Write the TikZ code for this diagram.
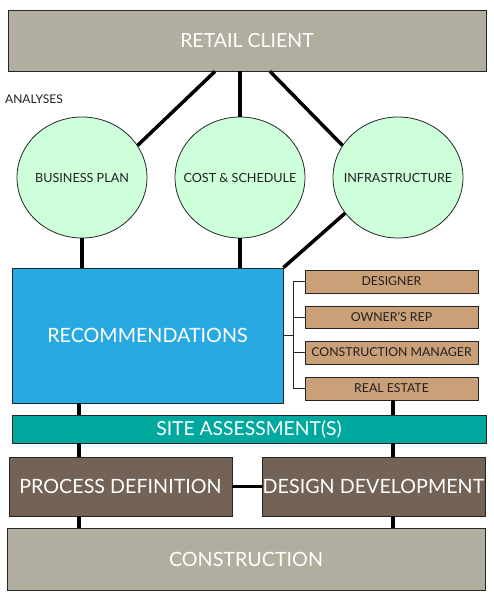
\documentclass[tikz,border=0pt]{standalone}
\usepackage{fontspec}
\setmainfont{Lato}
\usetikzlibrary{shapes.geometric}
\definecolor{graybox}{HTML}{B1AE9F}
\definecolor{recblue}{HTML}{29A9E1}
\definecolor{tanbox}{HTML}{C9A077}
\definecolor{tealbox}{HTML}{00A99D}
\definecolor{brownbox}{HTML}{736357}
\definecolor{mint}{HTML}{CCFFDA}
\definecolor{darktext}{HTML}{231F20}
\begin{document}
\begin{tikzpicture}[x=1pt,y=-1pt,
  boxnode/.style={draw=black!85, line width=0.8pt, inner sep=0pt, text=white, align=center},
  bignode/.style={boxnode, font=\fontsize{19.7}{23}\selectfont},
  tannode/.style={boxnode, fill=tanbox, text=darktext, minimum width=173pt, font=\fontsize{12.3}{14}\selectfont},
  ellnode/.style={ellipse, draw=black!85, line width=0.8pt, fill=mint, minimum width=130pt, minimum height=121pt, inner sep=0pt,
    label={[text=darktext, inner sep=0pt, font=\fontsize{12.6}{15}\selectfont]center:#1}},
  heavy/.style={line width=3.5pt, black},
  light/.style={line width=0.9pt, black!85}]
\fill[white] (0,0) rectangle (493,600);
\useasboundingbox (0,0) rectangle (493,600);

% nodes
\node[bignode, fill=graybox, minimum width=478pt, minimum height=61pt, font=\fontsize{19.5}{23}\selectfont] (rc) at (247,40.5) {RETAIL CLIENT};
\node[anchor=west, inner sep=0pt, text=darktext, font=\fontsize{12}{14}\selectfont] (an) at (5,99) {ANALYSES};
\node[ellnode={BUSINESS PLAN}] (bp) at (82,177.5) {};
\node[ellnode={COST \& SCHEDULE}] (cs) at (240,177.5) {};
\node[ellnode={INFRASTRUCTURE}] (inf) at (398,177.5) {};
\node[bignode, fill=recblue, minimum width=271pt, minimum height=135pt] (rec) at (147.5,335.5) {RECOMMENDATIONS};
\node[tannode, minimum height=23pt] (des) at (391.5,281.5) {DESIGNER};
\node[tannode, minimum height=22pt] (own) at (391.5,317) {OWNER’S REP};
\node[tannode, minimum height=23pt] (cm) at (391.5,352.5) {CONSTRUCTION MANAGER};
\node[tannode, minimum height=23pt] (re) at (391.5,388.5) {REAL ESTATE};
\node[bignode, fill=tealbox, minimum width=474pt, minimum height=28pt, font=\fontsize{19.3}{22}\selectfont] (site) at (249,429) {SITE ASSESSMENT(S)};
\node[bignode, fill=brownbox, minimum width=223pt, minimum height=59pt] (pd) at (120.5,486.5) {PROCESS DEFINITION};
\node[bignode, fill=brownbox, minimum width=223pt, minimum height=59pt] (dd) at (373.5,486.5) {DESIGN DEVELOPMENT};
\node[bignode, fill=graybox, minimum width=478pt, minimum height=62pt] (con) at (246,559) {CONSTRUCTION};

% helper coordinates
\coordinate (p1) at (215,0);
\coordinate (p3) at (270,0);
\coordinate (lx) at (79,0);
\coordinate (rx) at (393,0);
\coordinate (tx) at (293,0);

% heavy connectors
\draw[heavy] (rc.south -| p1) -- (bp.30);
\draw[heavy] (rc.south -| cs.north) -- (cs.north);
\draw[heavy] (rc.south -| p3) -- (inf.150);
\draw[heavy] (bp.south) -- (rec.north -| bp.south);
\draw[heavy] (cs.south) -- (rec.north -| cs.south);
\draw[heavy] (inf.214) -- (rec.north east);
\draw[heavy] (rec.south -| lx) -- (site.north -| lx);
\draw[heavy] (re.south -| rx) -- (site.north -| rx);
\draw[heavy] (site.south -| lx) -- (pd.north -| lx);
\draw[heavy] (site.south -| rx) -- (dd.north -| rx);
\draw[heavy] (pd.east) -- (dd.west);
\draw[heavy] (pd.south -| lx) -- (con.north -| lx);
\draw[heavy] (dd.south -| rx) -- (con.north -| rx);

% thin tree
\draw[light] (rec.east) -- (rec.east -| tx);
\draw[light] (tx |- des.west) -- (tx |- re.west);
\draw[light] (tx |- des.west) -- (des.west);
\draw[light] (tx |- own.west) -- (own.west);
\draw[light] (tx |- cm.west) -- (cm.west);
\draw[light] (tx |- re.west) -- (re.west);
\end{tikzpicture}
\end{document}
